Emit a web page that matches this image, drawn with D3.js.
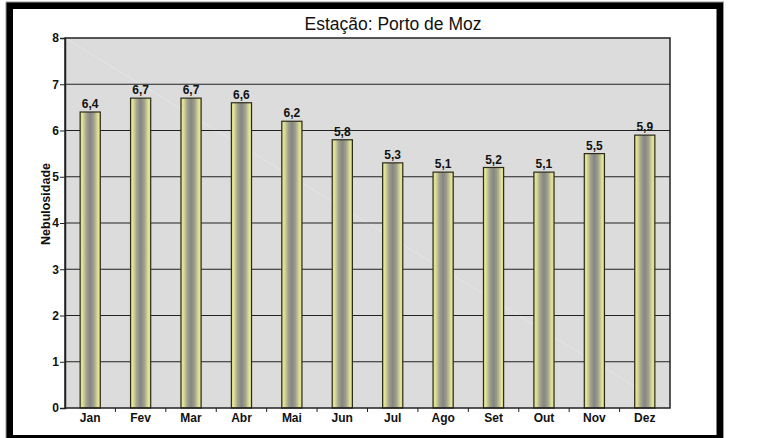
<!DOCTYPE html>
<html>
<head>
<meta charset="utf-8">
<script src="https://cdn.jsdelivr.net/npm/d3@7"></script>
<style>
  body { margin: 0; background: #fff; }
  text { font-family: Arial, "Liberation Sans", sans-serif; }
</style>
</head>
<body>
<div id="grafica"></div>
<script>
// Nebulosidade mensal - Porto de Moz

const meses = ["Jan", "Fev", "Mar", "Abr", "Mai", "Jun", "Jul", "Ago", "Set", "Out", "Nov", "Dez"]
const nebulosidade = [6.4, 6.7, 6.7, 6.6, 6.2, 5.8, 5.3, 5.1, 5.2, 5.1, 5.5, 5.9]
const yTicks = [0, 1, 2, 3, 4, 5, 6, 7, 8]
const titulo = "Estação: Porto de Moz"
const rotuloY = "Nebulosidade"

let width = 762
let height = 438
let plotLeft = 65, plotRight = 670, plotTop = 38, plotBottom = 408

const svg = d3.select('#grafica')
  .append("svg")
  .attr("width", width)
  .attr("height", height)

// gradiente das barras (amarelo nas bordas, cinza no meio)
const defs = svg.append("defs")
const grad = defs.append("linearGradient")
  .attr("id", "barGrad")
  .attr("x1", "0%").attr("x2", "100%").attr("y1", "0%").attr("y2", "0%")
grad.append("stop").attr("offset", "0%").attr("stop-color", "#cfcf80")
grad.append("stop").attr("offset", "10%").attr("stop-color", "#e6e69a")
grad.append("stop").attr("offset", "32%").attr("stop-color", "#a0a08c")
grad.append("stop").attr("offset", "50%").attr("stop-color", "#858585")
grad.append("stop").attr("offset", "68%").attr("stop-color", "#a0a08c")
grad.append("stop").attr("offset", "90%").attr("stop-color", "#e6e69a")
grad.append("stop").attr("offset", "100%").attr("stop-color", "#cfcf80")

// moldura preta
svg.append("rect")
  .attr("x", 9.5).attr("y", 5.5)
  .attr("width", 720 - 9.5).attr("height", 438.5 - 5.5)
  .attr("fill", "none")
  .attr("stroke", "#000")
  .attr("stroke-width", 7)
svg.append("rect")
  .attr("x", 6).attr("y", 2)
  .attr("width", 717.5).attr("height", 440)
  .attr("fill", "none")
  .attr("stroke", "#999")
  .attr("stroke-width", 1)

const xScale = d3.scaleBand()
  .domain(meses)
  .range([plotLeft, plotRight])
  .paddingInner(0.6)
  .paddingOuter(0.3)

const yScale = d3.scaleLinear()
  .domain([0, 8])
  .range([plotBottom, plotTop])

// fundo da área do gráfico
svg.append("rect")
  .attr("x", plotLeft).attr("y", plotTop)
  .attr("width", plotRight - plotLeft).attr("height", plotBottom - plotTop)
  .attr("fill", "#dcdcdc")

svg.append("line")
  .attr("x1", plotLeft).attr("y1", plotTop)
  .attr("x2", plotRight).attr("y2", plotBottom)
  .attr("stroke", "#fff")
  .attr("stroke-opacity", 0.35)
  .attr("stroke-width", 0.8)

// linhas de grade
svg.append("g")
  .selectAll("line")
  .data(yTicks.slice(1, -1))
  .enter()
  .append("line")
  .attr("x1", plotLeft).attr("x2", plotRight)
  .attr("y1", d => yScale(d)).attr("y2", d => yScale(d))
  .attr("stroke", "#222")
  .attr("stroke-width", 1.2)

// barras
svg.selectAll(".bar")
  .data(nebulosidade)
  .enter()
  .append("rect")
  .attr("class", "bar")
  .attr("x", (d, i) => xScale(meses[i]))
  .attr("y", d => yScale(d))
  .attr("width", xScale.bandwidth())
  .attr("height", d => plotBottom - yScale(d))
  .attr("fill", "url(#barGrad)")
  .attr("stroke", "#2b2b18")
  .attr("stroke-width", 1.2)

// rótulos de valores
svg.selectAll(".valor")
  .data(nebulosidade)
  .enter()
  .append("text")
  .attr("class", "valor")
  .attr("x", (d, i) => xScale(meses[i]) + xScale.bandwidth() / 2)
  .attr("y", d => yScale(d) - 4)
  .attr("text-anchor", "middle")
  .attr("font-size", "12px")
  .attr("font-weight", "bold")
  .attr("fill", "#111")
  .text(d => d.toFixed(1).replace(".", ","))

// borda da área
svg.append("rect")
  .attr("x", plotLeft).attr("y", plotTop)
  .attr("width", plotRight - plotLeft).attr("height", plotBottom - plotTop)
  .attr("fill", "none")
  .attr("stroke", "#222")
  .attr("stroke-width", 1.5)

// eixo y
const yAxis = d3.axisLeft(yScale).tickValues(yTicks).tickSize(5).tickPadding(1).tickFormat(d3.format("d"))
const gy = svg.append("g")
  .attr("transform", "translate(" + plotLeft + ",0)")
  .call(yAxis)
gy.select(".domain").attr("stroke", "#222").attr("stroke-width", 1.5)
gy.selectAll("line").attr("stroke", "#222")
gy.selectAll("text").attr("font-size", "12px").attr("font-weight", "bold").attr("fill", "#111")
  .style("font-family", "Arial, 'Liberation Sans', sans-serif")

// eixo x
const xAxis = d3.axisBottom(xScale).tickSize(0).tickPadding(5)
const gx = svg.append("g")
  .attr("transform", "translate(0," + plotBottom + ")")
  .call(xAxis)
gx.select(".domain").remove()
gx.selectAll("text").attr("font-size", "12px").attr("font-weight", "bold").attr("fill", "#111")
  .style("font-family", "Arial, 'Liberation Sans', sans-serif")

// marcas entre categorias
const step = xScale.step()
svg.append("g")
  .selectAll("line")
  .data(meses.slice(1))
  .enter()
  .append("line")
  .attr("x1", (d) => xScale(d) - (step - xScale.bandwidth()) / 2)
  .attr("x2", (d) => xScale(d) - (step - xScale.bandwidth()) / 2)
  .attr("y1", plotBottom).attr("y2", plotBottom + 4)
  .attr("stroke", "#222")

// título
svg.append("text")
  .attr("x", 393)
  .attr("y", 30)
  .attr("text-anchor", "middle")
  .attr("font-size", "17.5px")
  .attr("fill", "#111")
  .text(titulo)

// rótulo eixo y
svg.append("text")
  .attr("transform", "translate(50,204) rotate(-90)")
  .attr("text-anchor", "middle")
  .attr("font-size", "12.5px")
  .attr("font-weight", "bold")
  .attr("fill", "#111")
  .text(rotuloY)
</script>
</body>
</html>
